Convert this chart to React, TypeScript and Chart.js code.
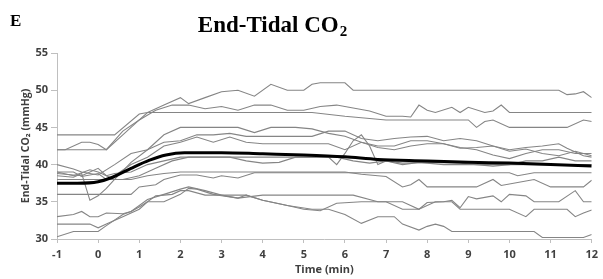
import React, { useEffect, useRef } from "react";
import { Chart, registerables } from "chart.js";

Chart.register(...registerables);

// ---- data (time in min, end-tidal CO2 in mmHg) ----
const panelLetter = "E";
const chartTitle = "End-Tidal CO";
const chartTitleSub = "2";
const xAxisTitle = "Time (min)";
const yAxisTitle = "End-Tidal CO\u2082 (mmHg)";
const xRange = [-1, 12];
const yRange = [30, 55];

const subject01: [number, number][] = [[-1,44],[0.4,44],[1,46.8],[1.2,47],[1.6,48],[2,49],[2.2,48.2],[2.6,49],[3,49.8],[3.4,50],[3.8,49.2],[4.2,50.8],[4.6,50],[5,50],[5.2,50.8],[5.4,51],[6,51],[6.2,50],[11.2,50],[11.4,49.4],[11.6,49.5],[11.8,49.8],[12,49]];
const subject02: [number, number][] = [[-1,42],[0.2,42],[0.6,44.5],[1,46],[1.4,47.3],[1.8,48],[2.2,48],[2.6,47.5],[3,47.8],[3.4,47.3],[3.8,48],[4.2,48],[4.6,47.3],[5,47.3],[5.4,47.8],[5.8,48],[6.2,47.6],[6.6,47.2],[7,46.5],[7.4,46.5],[7.6,46.4],[7.8,48],[8,47.3],[8.2,47],[8.6,47.7],[8.8,47],[9,47.7],[9.4,47],[9.6,47.2],[9.8,48],[10,47],[12,47]];
const subject03: [number, number][] = [[-1,42],[-0.8,42],[-0.4,43],[-0.2,43],[0,42.7],[0.2,42],[0.6,44],[1,46],[1.2,47],[5.2,47],[6,46.5],[7,46],[9,46],[9.2,45],[9.4,45.8],[9.6,46],[10,45],[11.4,45],[11.8,46],[12,45.8]];
const subject04: [number, number][] = [[-1,38.5],[-0.6,38.3],[-0.4,38.8],[-0.2,35.2],[0,35.8],[0.2,36.8],[0.4,38],[0.8,40.3],[1.2,42],[1.6,44],[2,45],[3.4,45],[3.8,44.3],[4.2,45],[4.8,45],[5.2,44.8],[5.6,44.2],[6,43.8],[6.4,43],[6.8,42.5],[7.2,42.5],[7.6,43.2],[8,43.2],[8.4,42.8],[8.8,42.3],[9.2,42],[9.6,41.3],[10,40.8],[10.4,41.5],[10.8,42],[11.2,42],[11.6,41.5],[12,41.5]];
const subject05: [number, number][] = [[-1,40],[-0.6,39.4],[-0.4,39],[0,38.6],[0.4,40],[0.8,41.5],[1.2,42],[1.6,43],[2,43.2],[2.4,44],[2.8,44],[3.2,44.2],[3.6,43.8],[5.2,43.8],[5.6,44.5],[6,44.5],[6.4,43.5],[6.8,43.2],[7.2,43.5],[7.6,43.7],[8,43.8],[8.4,43.2],[8.8,43.5],[9.2,43.2],[9.6,42.5],[10,42],[10.4,42.3],[10.8,42.5],[11.2,42.8],[11.4,42.2],[11.8,41.2],[12,41]];
const subject06: [number, number][] = [[-1,39],[-0.6,39],[-0.4,38.4],[0,38.8],[0.2,38],[0.4,38.5],[0.8,40],[1.2,41],[1.6,42.5],[2,43],[2.4,43.7],[2.8,43],[3.2,43.7],[3.6,43],[4,42.8],[5.6,42.8],[6,42],[6.4,43],[6.8,42.3],[7.2,42],[7.6,42.5],[8,42.8],[8.4,42.8],[8.8,42.2],[9.2,42.3],[9.6,42.5],[10,41.8],[10.4,42.1],[10.8,41.5],[11.2,41.2],[11.6,41.8],[12,41.2]];
const subject07: [number, number][] = [[-1,38.8],[-0.4,38.5],[0,39.5],[0.2,38.5],[0.4,38.8],[0.8,39],[1.2,40],[1.6,40.5],[2,41],[3.2,41],[3.6,40.5],[4,40.2],[4.4,40.3],[4.8,41],[5.8,41],[6.2,40.5],[6.6,40.2],[7,40.5],[7.4,40.2],[8,40.3],[8.8,40.2],[9.2,40],[9.6,39.8],[10,40],[10.4,40.5],[10.8,40.5],[11.2,41],[11.6,40.5],[12,40.5]];
const subject08: [number, number][] = [[-1,39],[-0.6,38.5],[-0.2,39.3],[0,39],[0.4,38],[0.6,38],[1,38.5],[1.4,39.5],[1.8,40.5],[2.2,41],[5.6,41],[5.8,40],[6,41.5],[6.2,43.2],[6.4,44],[6.6,42.5],[6.8,40],[7,40.5],[7.4,40],[7.8,40.3],[8.4,40],[12,40]];
const subject09: [number, number][] = [[-1,36],[0.8,36],[1,37],[1.4,37.3],[1.6,38],[2,38.6],[2.4,38.6],[2.8,38.2],[3,38.5],[3.4,38.2],[3.8,38.9],[10,38.9],[10.2,38.5],[10.6,38.9],[12,38.9]];
const subject10: [number, number][] = [[-1,38],[0.8,38],[1.2,38.5],[1.6,38.8],[2,39],[6,39],[6.4,38.7],[7,38.4],[7.4,37],[7.6,37.3],[7.8,38],[8,37],[9.2,37],[9.6,38],[9.8,37.2],[10.2,37.6],[10.6,38],[11,37],[11.8,37],[12,37.9]];
const subject11: [number, number][] = [[-1,33],[-0.6,33.3],[-0.4,33.7],[-0.2,33],[0,33],[0.2,33.5],[0.6,33.4],[0.8,33.7],[1,34.3],[1.2,35],[1.4,35.8],[1.8,36],[2,36.5],[2.2,36.5],[2.6,35.9],[3,35.9],[3.4,35.5],[4,35.9],[6.2,35.9],[6.8,35],[7.4,35],[7.8,34],[8,34.9],[8.4,35],[8.6,35.2],[8.8,34.2],[9,35.7],[9.2,35.4],[9.6,35.8],[9.8,35],[10,36],[10.4,35.8],[10.6,35],[11.2,35],[11.6,36.5],[11.8,35],[12,35]];
const subject12: [number, number][] = [[-1,32],[-0.2,32],[0,31.5],[0.2,32],[0.6,33],[1,34],[1.2,35],[1.6,35],[2,36],[2.2,36.8],[2.4,36.7],[2.8,36],[3.4,35.5],[3.6,35.9],[4,35.2],[4.6,34.5],[5,34],[5.4,33.8],[5.8,34.8],[6.4,35],[7,35],[7.4,34],[7.8,34],[8.2,35],[8.6,35],[8.8,34],[10,34],[10.4,33],[10.6,34],[11.4,34],[11.6,33],[11.8,33.5],[12,33.9]];
const subject13: [number, number][] = [[-1,30.3],[-0.6,31],[0,31],[0.2,31.8],[0.6,33.3],[0.8,33.7],[1.2,35.3],[1.6,36],[2,36.7],[2.2,37],[2.6,36.5],[3,35.9],[3.6,35.9],[4,35.2],[4.6,34.5],[5.2,34],[5.6,34],[6,33.3],[6.4,32.1],[6.8,33],[7.2,33],[7.4,32],[7.8,31.2],[8,31.7],[8.2,32],[8.4,31.7],[8.6,31],[10.6,31],[10.8,30.2],[11.8,30.2],[12,30.6]];
const meanCurve: [number, number][] = [[-1,37.5],[-0.5,37.5],[0,37.7],[0.35,38.3],[0.8,39.5],[1.25,40.6],[1.65,41.3],[2.1,41.6],[3,41.6],[4,41.45],[5,41.3],[6,41.05],[6.8,40.7],[8,40.5],[9,40.3],[10,40.2],[11,40.0],[12,39.8]];

const subjects = [subject01, subject02, subject03, subject04, subject05, subject06, subject07, subject08, subject09, subject10, subject11, subject12, subject13];

const toPoints = (arr: [number, number][]) => arr.map(([x, y]) => ({ x, y }));

const serif = "'Liberation Serif', 'Times New Roman', serif";
const sans = "'Open Sans', 'Noto Sans', sans-serif";

const titlePlugin = {
  id: "panelTitle",
  afterDraw(chart: any) {
    const ctx = chart.ctx;
    ctx.save();
    ctx.fillStyle = "#000";
    ctx.textBaseline = "alphabetic";
    ctx.textAlign = "left";
    ctx.font = "bold 17px " + serif;
    ctx.fillText(panelLetter, 10, 26);
    ctx.font = "bold 23px " + serif;
    const mainW = ctx.measureText(chartTitle).width;
    ctx.font = "bold 15px " + serif;
    const subW = ctx.measureText(chartTitleSub).width;
    const startX = 272 - (mainW + subW) / 2;
    ctx.font = "bold 23px " + serif;
    ctx.fillText(chartTitle, startX, 32);
    ctx.font = "bold 15px " + serif;
    ctx.fillText(chartTitleSub, startX + mainW + 1, 36);
    ctx.restore();
  },
};

export default function App() {
  const ref = useRef<HTMLCanvasElement | null>(null);
  useEffect(() => {
    if (!ref.current) return;
    const datasets: any[] = subjects.map((s, i) => ({
      label: "Subject " + (i + 1),
      data: toPoints(s),
      borderColor: "#858585",
      borderWidth: 1.1,
      pointRadius: 0,
      tension: 0,
      fill: false,
      order: 2,
    }));
    datasets.push({
      label: "Mean",
      data: toPoints(meanCurve),
      borderColor: "#000000",
      borderWidth: 3,
      pointRadius: 0,
      cubicInterpolationMode: "monotone",
      fill: false,
      order: 1,
    });
    const chart = new Chart(ref.current, {
      type: "line",
      data: { datasets },
      options: {
        responsive: false,
        animation: false,
        layout: { padding: { top: 53, left: 0, right: 5, bottom: 0 } },
        plugins: { legend: { display: false }, tooltip: { enabled: false }, title: { display: false } },
        scales: {
          x: {
            type: "linear",
            min: xRange[0],
            max: xRange[1],
            ticks: { stepSize: 1, color: "#404040", font: { family: sans, size: 11, weight: "bold" }, padding: 5, maxRotation: 0 },
            grid: { display: true, drawOnChartArea: false, drawTicks: true, tickLength: 4, color: "#bfbfbf" },
            border: { display: true, color: "#bfbfbf" },
            title: { display: true, text: xAxisTitle, color: "#404040", font: { family: sans, size: 11, weight: "bold" }, padding: { top: 0, bottom: 3 } },
            afterFit: (s: any) => { s.height = 40; },
          },
          y: {
            min: yRange[0],
            max: yRange[1],
            ticks: { stepSize: 5, color: "#404040", font: { family: sans, size: 11, weight: "bold" }, padding: 3 },
            grid: { display: true, drawOnChartArea: false, drawTicks: true, tickLength: 6, color: "#bfbfbf" },
            border: { display: true, color: "#bfbfbf" },
            title: { display: true, text: yAxisTitle, color: "#404040", font: { family: sans, size: 10.5, weight: "bold" }, padding: { top: 20, bottom: 0 } },
            afterFit: (s: any) => { s.width = 57; },
          },
        },
      },
      plugins: [titlePlugin],
    });
    return () => chart.destroy();
  }, []);
  return (
    <div style={{ position: "fixed", left: 0, top: 0, width: 603, height: 279, background: "#fff" }}>
      <canvas ref={ref} width={603} height={279} />
    </div>
  );
}
